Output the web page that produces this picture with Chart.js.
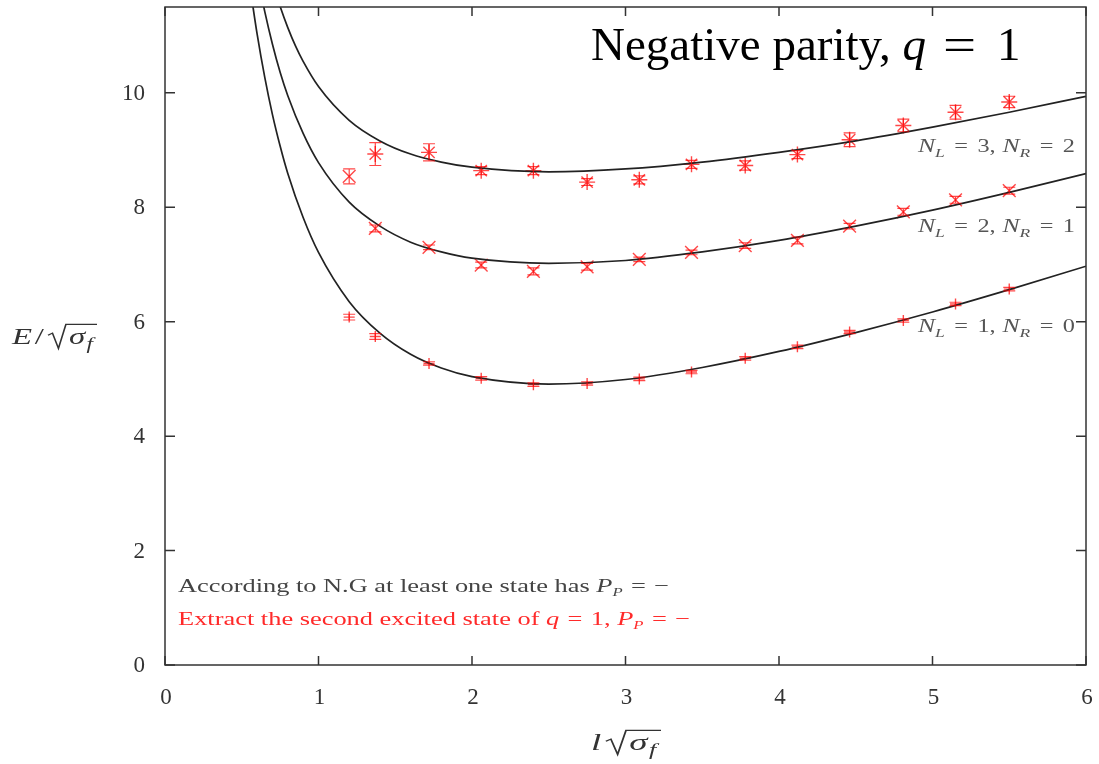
<!DOCTYPE html>
<html>
<head>
<meta charset="utf-8">
<script src="https://cdn.jsdelivr.net/npm/chart.js@4.4.1/dist/chart.umd.min.js"></script>
<style>
  html, body { margin: 0; padding: 0; background: #fff; }
  #wrap { width: 1099px; height: 764px; }
</style>
</head>
<body>
<div id="wrap"><canvas id="chart"></canvas></div>
<script>
// lattice sizes, in units of l*sqrt(sigma_f)
const lengths = [1.20, 1.37, 1.72, 2.06, 2.40, 2.75, 3.09, 3.43, 3.78, 4.12, 4.46, 4.81, 5.15, 5.50];

// measured energies E/sqrt(sigma_f) and their errors
const groundE   = [6.08, 5.74, 5.27, 5.01, 4.90, 4.92, 5.00, 5.12, 5.36, 5.56, 5.82, 6.02, 6.31, 6.57];
const groundErr = [0.05, 0.05, 0.03, 0.03, 0.03, 0.03, 0.03, 0.03, 0.03, 0.03, 0.03, 0.03, 0.03, 0.03];
const firstE    = [8.54, 7.63, 7.30, 6.99, 6.88, 6.96, 7.09, 7.21, 7.33, 7.42, 7.67, 7.92, 8.13, 8.29];
const firstErr  = [0.13, 0.06, 0.04, 0.05, 0.06, 0.06, 0.04, 0.04, 0.05, 0.06, 0.05, 0.06, 0.06, 0.06];
const secondL   = lengths.slice(1);
const secondE   = [8.93, 8.96, 8.64, 8.64, 8.44, 8.48, 8.75, 8.73, 8.92, 9.18, 9.43, 9.66, 9.84];
const secondErr = [0.20, 0.15, 0.07, 0.07, 0.06, 0.07, 0.07, 0.08, 0.07, 0.12, 0.11, 0.12, 0.10];

// Nambu-Goto levels, sampled along l
const ng10X = [0.56, 0.60, 0.65, 0.70, 0.75, 0.80, 0.90, 1.00, 1.20, 1.40, 1.60, 1.80, 2.00, 2.50, 3.00, 3.50, 4.00, 4.50, 5.00, 5.50, 6.00];
const ng10Y = [11.74, 11.03, 10.27, 9.62, 9.07, 8.59, 7.82, 7.21, 6.35, 5.80, 5.43, 5.19, 5.04, 4.91, 4.99, 5.20, 5.48, 5.81, 6.17, 6.56, 6.97];
const ng21X = [0.63, 0.65, 0.70, 0.75, 0.80, 0.90, 1.00, 1.20, 1.40, 1.60, 1.80, 2.00, 2.50, 3.00, 3.50, 4.00, 4.50, 5.00, 5.50, 6.00];
const ng21Y = [11.68, 11.42, 10.85, 10.36, 9.95, 9.29, 8.78, 8.09, 7.67, 7.39, 7.22, 7.11, 7.02, 7.07, 7.22, 7.42, 7.67, 7.95, 8.26, 8.59];
const ng32X = [0.73, 0.75, 0.80, 0.85, 0.90, 1.00, 1.20, 1.40, 1.60, 1.80, 2.00, 2.50, 3.00, 3.50, 4.00, 4.50, 5.00, 5.50, 6.00];
const ng32Y = [11.68, 11.51, 11.14, 10.82, 10.55, 10.11, 9.52, 9.16, 8.93, 8.79, 8.70, 8.62, 8.67, 8.79, 8.96, 9.16, 9.40, 9.66, 9.94];

const xTicks = [0, 1, 2, 3, 4, 5, 6];
const yTicks = [0, 2, 4, 6, 8, 10];

const toPts = (xs, ys) => xs.map((x, i) => ({ x, y: ys[i] }));

const RED = 'rgba(255, 0, 0, 0.72)';
const INK = '#333';
const SERIF = '"Liberation Serif", "Times New Roman", serif';

function curve(xs, ys) {
  return {
    data: toPts(xs, ys),
    showLine: true,
    borderColor: '#222',
    borderWidth: 1.7,
    pointRadius: 0,
    cubicInterpolationMode: 'monotone'
  };
}

function points(xs, ys, errs, style, r) {
  return {
    data: toPts(xs, ys),
    errors: errs,
    showLine: false,
    pointStyle: style,
    pointRadius: r,
    pointHoverRadius: r,
    borderColor: RED,
    backgroundColor: RED,
    pointBorderWidth: 1.4
  };
}

// text pieces with their own fonts, optionally stretched to a given width
function drawRuns(ctx, runs, x, y, color, width) {
  ctx.save();
  ctx.textAlign = 'left';
  ctx.textBaseline = 'alphabetic';
  let natural = 0;
  for (const r of runs) {
    ctx.font = r.f;
    natural += (r.gap || 0) + ctx.measureText(r.t).width * (r.sx || 1);
  }
  const k = width ? width / natural : 1;
  ctx.translate(x, y);
  ctx.scale(k, 1);
  let cx = 0;
  for (const r of runs) {
    ctx.font = r.f;
    ctx.fillStyle = r.c || color;
    cx += r.gap || 0;
    ctx.save();
    ctx.translate(cx, r.dy || 0);
    ctx.scale(r.sx || 1, 1);
    ctx.fillText(r.t, 0, 0);
    ctx.restore();
    cx += ctx.measureText(r.t).width * (r.sx || 1);
  }
  ctx.restore();
  return x + cx * k;
}

// axis title: leading symbols, then sqrt(sigma_f)
function sqrtTitle(ctx, lead, x, y, size, width, color) {
  const s = size / 22;
  const rad = 14 * s;
  const under = [
    { t: '\u03C3', f: `italic ${size}px ${SERIF}` },
    { t: 'f', f: `italic ${Math.round(size * 0.7)}px ${SERIF}`, dy: 5 * s, gap: 1 }
  ];
  ctx.save();
  let leadW = 0, underW = 0;
  lead.forEach(r => { ctx.font = r.f; leadW += (r.gap || 0) + ctx.measureText(r.t).width; });
  under.forEach(r => { ctx.font = r.f; underW += (r.gap || 0) + ctx.measureText(r.t).width; });
  const natural = leadW + 3 + rad + underW + 3;
  const k = width / natural;
  ctx.translate(x, y);
  ctx.scale(k, 1);
  drawRuns(ctx, lead, 0, 0, color);
  const r0 = leadW + 3;
  drawRuns(ctx, under, r0 + rad, 0, color);
  ctx.strokeStyle = color;
  ctx.lineWidth = 1.2;
  ctx.beginPath();
  ctx.moveTo(r0, -8 * s);
  ctx.lineTo(r0 + 3 * s, -10 * s);
  ctx.lineTo(r0 + 7 * s, 4 * s);
  ctx.lineTo(r0 + 12 * s, -18 * s);
  ctx.lineTo(r0 + rad + underW + 3, -18 * s);
  ctx.stroke();
  ctx.restore();
}

const frame = {
  id: 'frame',
  afterDatasetsDraw(chart) {
    const { ctx, scales: { x, y } } = chart;
    ctx.save();
    ctx.strokeStyle = RED;
    ctx.lineWidth = 1.2;
    chart.data.datasets.forEach(ds => {
      if (!ds.errors) return;
      ds.data.forEach((p, i) => {
        const px = x.getPixelForValue(p.x);
        const lo = y.getPixelForValue(p.y - ds.errors[i]);
        const hi = y.getPixelForValue(p.y + ds.errors[i]);
        ctx.beginPath();
        ctx.moveTo(px, lo); ctx.lineTo(px, hi);
        ctx.moveTo(px - 6, lo); ctx.lineTo(px + 6, lo);
        ctx.moveTo(px - 6, hi); ctx.lineTo(px + 6, hi);
        ctx.stroke();
      });
    });
    ctx.restore();
  },
  afterDraw(chart) {
    const { ctx, chartArea: a, scales: { x, y } } = chart;
    ctx.save();
    // box and mirrored inward ticks
    ctx.strokeStyle = INK;
    ctx.lineWidth = 1.5;
    ctx.strokeRect(a.left, a.top, a.right - a.left, a.bottom - a.top);
    ctx.beginPath();
    xTicks.forEach(v => {
      const px = x.getPixelForValue(v);
      ctx.moveTo(px, a.bottom); ctx.lineTo(px, a.bottom - 9);
      ctx.moveTo(px, a.top); ctx.lineTo(px, a.top + 9);
    });
    yTicks.forEach(v => {
      const py = y.getPixelForValue(v);
      ctx.moveTo(a.left, py); ctx.lineTo(a.left + 10, py);
      ctx.moveTo(a.right, py); ctx.lineTo(a.right - 10, py);
    });
    ctx.stroke();

    // tick numbers
    ctx.fillStyle = INK;
    ctx.font = `23px ${SERIF}`;
    ctx.textBaseline = 'middle';
    ctx.textAlign = 'right';
    yTicks.forEach(v => ctx.fillText(String(v), a.left - 20, y.getPixelForValue(v) + 1));
    ctx.textAlign = 'center';
    xTicks.forEach(v => ctx.fillText(String(v), x.getPixelForValue(v) + 1, a.bottom + 33));
    ctx.restore();

    // axis titles
    sqrtTitle(ctx, [
      { t: 'E', f: `italic 24px ${SERIF}` },
      { t: '/', f: `24px ${SERIF}`, gap: 2 }
    ], 12, 344, 24, 85, INK);
    sqrtTitle(ctx, [
      { t: 'l', f: `italic 24px ${SERIF}` }
    ], 591, 750, 24, 70, INK);

    // level labels
    const lab = (nl, nr, yy) => drawRuns(ctx, [
      { t: 'N', f: `italic 19px ${SERIF}` },
      { t: 'L', f: `italic 13px ${SERIF}`, dy: 5 },
      { t: '=', f: `18px ${SERIF}`, gap: 7 },
      { t: String(nl) + ',', f: `18px ${SERIF}`, gap: 7 },
      { t: 'N', f: `italic 19px ${SERIF}`, gap: 5 },
      { t: 'R', f: `italic 13px ${SERIF}`, dy: 5 },
      { t: '=', f: `18px ${SERIF}`, gap: 7 },
      { t: String(nr), f: `18px ${SERIF}`, gap: 7 }
    ], 918, yy, '#555', 157);
    lab(3, 2, 152);
    lab(2, 1, 232);
    lab(1, 0, 332);

    // notes in the lower left
    drawRuns(ctx, [
      { t: 'According to N.G at least one state has ', f: `19px ${SERIF}` },
      { t: 'P', f: `italic 19px ${SERIF}` },
      { t: 'P', f: `italic 12px ${SERIF}`, dy: 4 },
      { t: '=', f: `19px ${SERIF}`, gap: 6 },
      { t: '\u2212', f: `19px ${SERIF}`, gap: 6 }
    ], 178, 592, '#444', 491);
    drawRuns(ctx, [
      { t: 'Extract the second excited state of ', f: `19px ${SERIF}` },
      { t: 'q', f: `italic 19px ${SERIF}` },
      { t: '=', f: `19px ${SERIF}`, gap: 6 },
      { t: '1, ', f: `19px ${SERIF}`, gap: 6 },
      { t: 'P', f: `italic 19px ${SERIF}` },
      { t: 'P', f: `italic 12px ${SERIF}`, dy: 4 },
      { t: '=', f: `19px ${SERIF}`, gap: 6 },
      { t: '\u2212', f: `19px ${SERIF}`, gap: 6 }
    ], 178, 625, '#ff2a2a', 512);

    // heading
    drawRuns(ctx, [
      { t: 'Negative parity, ', f: `47px ${SERIF}` },
      { t: 'q', f: `italic 47px ${SERIF}` },
      { t: '=', f: `47px ${SERIF}`, gap: 17, sx: 1.25 },
      { t: '1', f: `47px ${SERIF}`, gap: 21 }
    ], 591, 60, '#000');
  }
};

new Chart(document.getElementById('chart'), {
  type: 'scatter',
  plugins: [frame],
  data: {
    datasets: [
      curve(ng10X, ng10Y),
      curve(ng21X, ng21Y),
      curve(ng32X, ng32Y),
      points(lengths, groundE, groundErr, 'cross', 5.5),
      points(lengths, firstE, firstErr, 'crossRot', 9),
      points(secondL, secondE, secondErr, 'star', 8)
    ]
  },
  options: {
    responsive: true,
    maintainAspectRatio: false,
    animation: false,
    events: [],
    layout: { autoPadding: false, padding: { left: 0, right: 13, top: 7, bottom: 0 } },
    plugins: { legend: { display: false }, tooltip: { enabled: false } },
    scales: {
      x: {
        type: 'linear',
        min: 0, max: 6,
        afterFit: s => { s.height = 99; s.paddingLeft = 0; s.paddingRight = 0; },
        grid: { display: false, drawTicks: false },
        border: { display: false },
        ticks: { display: false }
      },
      y: {
        type: 'linear',
        min: 0, max: 11.5,
        afterFit: s => { s.width = 165; s.paddingTop = 0; s.paddingBottom = 0; },
        grid: { display: false, drawTicks: false },
        border: { display: false },
        ticks: { display: false }
      }
    }
  }
});
</script>
</body>
</html>
